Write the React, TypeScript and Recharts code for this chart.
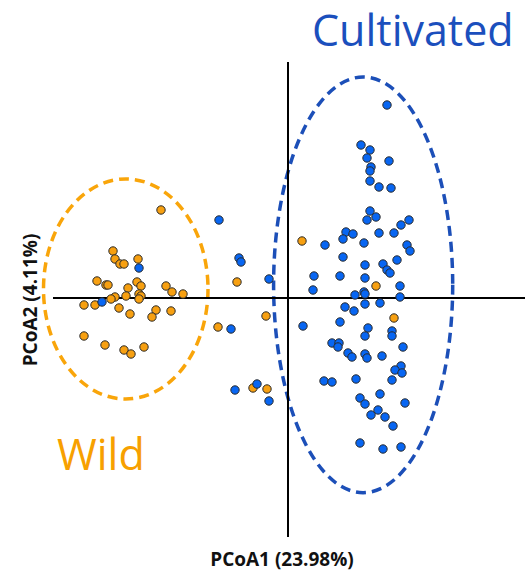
import React from 'react';
import { ScatterChart, Scatter, XAxis, YAxis, ReferenceLine, ReferenceArea, Customized } from 'recharts';

const wildPoints: [number, number][] = [
  [-0.127, 0.088], [-0.175, 0.047], [-0.173, 0.039], [-0.168, 0.034], [-0.164, 0.034],
  [-0.150, 0.039], [-0.191, 0.017], [-0.182, 0.013], [-0.180, 0.013], [-0.160, 0.010],
  [-0.151, 0.016], [-0.147, 0.012], [-0.122, 0.012], [-0.116, 0.006], [-0.105, 0.004],
  [-0.173, 0.001], [-0.177, -0.001], [-0.162, 0.002], [-0.149, 0.004], [-0.147, 0.002],
  [-0.149, -0.001], [-0.204, -0.007], [-0.193, -0.007], [-0.169, -0.010], [-0.158, -0.016],
  [-0.132, -0.012], [-0.136, -0.019], [-0.117, -0.013], [-0.204, -0.038], [-0.183, -0.047],
  [-0.164, -0.052], [-0.157, -0.056], [-0.144, -0.049],
  [-0.051, 0.016], [-0.022, -0.018], [-0.070, -0.029], [-0.035, -0.090], [-0.021, -0.091],
  [0.014, 0.057], [0.088, 0.012], [0.106, -0.020],
];

const cultivatedPoints: [number, number][] = [
  [-0.149, 0.030], [-0.186, -0.004],
  [-0.069, 0.078], [-0.049, 0.040], [-0.047, 0.036], [-0.019, 0.019], [-0.057, -0.031],
  [-0.053, -0.092], [-0.031, -0.086], [-0.019, -0.103],
  [0.026, 0.022], [0.025, 0.008], [0.015, -0.028],
  [0.099, 0.193], [0.073, 0.153], [0.082, 0.148], [0.079, 0.140], [0.101, 0.137],
  [0.083, 0.131], [0.082, 0.127], [0.082, 0.117], [0.091, 0.111], [0.103, 0.110],
  [0.082, 0.087], [0.088, 0.081], [0.079, 0.078], [0.121, 0.078], [0.113, 0.073],
  [0.058, 0.066], [0.065, 0.064], [0.055, 0.059], [0.091, 0.065], [0.106, 0.065],
  [0.076, 0.055], [0.037, 0.053], [0.119, 0.053], [0.122, 0.047], [0.055, 0.041],
  [0.109, 0.038], [0.077, 0.033], [0.095, 0.034], [0.099, 0.028], [0.102, 0.025],
  [0.052, 0.022], [0.077, 0.020], [0.112, 0.012], [0.067, 0.003], [0.076, 0.006],
  [0.077, 0.004], [0.112, 0.001], [0.077, -0.006], [0.092, -0.005], [0.057, -0.009],
  [0.066, -0.013], [0.052, -0.024], [0.080, -0.030], [0.104, -0.033], [0.077, -0.038],
  [0.104, -0.038], [0.044, -0.045], [0.051, -0.045], [0.050, -0.049], [0.115, -0.049],
  [0.060, -0.055], [0.064, -0.059], [0.077, -0.056], [0.079, -0.060], [0.094, -0.058],
  [0.113, -0.068], [0.107, -0.072], [0.114, -0.075], [0.104, -0.082], [0.068, -0.081],
  [0.036, -0.083], [0.044, -0.084], [0.092, -0.096], [0.072, -0.100], [0.077, -0.106],
  [0.117, -0.105], [0.090, -0.112], [0.083, -0.117], [0.097, -0.119], [0.105, -0.128],
  [0.072, -0.145], [0.095, -0.151], [0.113, -0.149],
];

// ellipse bounding boxes [x1, x2, y1, y2]
const wildEllipse = [-0.2445, -0.080, 0.119, -0.101];
const cultivatedEllipse = [-0.0144, 0.1647, 0.221, -0.1947];

const xAxisExtent = [-0.235, 0.237];
const yAxisExtent = [0.236, -0.239];

const xDomain = [-0.288, 0.242];
const yDomain = [-0.273, 0.298];

const wildData = wildPoints.map(([x, y]) => ({ x, y }));
const cultivatedData = cultivatedPoints.map(([x, y]) => ({ x, y }));

const BLUE = '#0866f2';
const ORANGE = '#f7a011';

const dot = (fill: string) => (props: any) => (
  <circle cx={props.cx} cy={props.cy} r={4.2} fill={fill} stroke="#2a2a2a" strokeWidth={1} />
);

const ellipseShape = (color: string) => (props: any) => {
  const { x, y, width, height } = props;
  return (
    <ellipse
      cx={x + width / 2}
      cy={y + height / 2}
      rx={Math.abs(width) / 2}
      ry={Math.abs(height) / 2}
      fill="none"
      stroke={color}
      strokeWidth={3.5}
      strokeDasharray="10 6"
    />
  );
};

const Labels = () => (
  <g>
    <text x={312} y={46} fontFamily="Open Sans" fontSize={43} fill="#1b4fbd">Cultivated</text>
    <text x={57} y={470} fontFamily="Open Sans" fontSize={43} fill="#f7a000">Wild</text>
    <text x={282} y={566} textAnchor="middle" fontFamily="Open Sans" fontWeight="bold" fontSize={19} fill="#111">PCoA1 (23.98%)</text>
    <text x={37} y={300} textAnchor="middle" transform="rotate(-90 37 300)" fontFamily="Open Sans" fontWeight="bold" fontSize={19} fill="#111">PCoA2 (4.11%)</text>
  </g>
);

export default function App() {
  return (
    <div style={{ position: 'absolute', left: 0, top: 0, width: 530, height: 571, background: '#fff' }}>
      <ScatterChart width={530} height={571} margin={{ top: 0, right: 0, bottom: 0, left: 0 }}>
        <XAxis type="number" dataKey="x" domain={xDomain} hide allowDataOverflow />
        <YAxis type="number" dataKey="y" domain={yDomain} hide allowDataOverflow />
        <ReferenceLine segment={[{ x: xAxisExtent[0], y: 0 }, { x: xAxisExtent[1], y: 0 }]} stroke="#000" strokeWidth={2} ifOverflow="visible" />
        <ReferenceLine segment={[{ x: 0, y: yAxisExtent[0] }, { x: 0, y: yAxisExtent[1] }]} stroke="#000" strokeWidth={2} ifOverflow="visible" />
        <ReferenceArea x1={wildEllipse[0]} x2={wildEllipse[1]} y1={wildEllipse[2]} y2={wildEllipse[3]} shape={ellipseShape('#f9a50a')} ifOverflow="visible" />
        <ReferenceArea x1={cultivatedEllipse[0]} x2={cultivatedEllipse[1]} y1={cultivatedEllipse[2]} y2={cultivatedEllipse[3]} shape={ellipseShape('#1c4fb8')} ifOverflow="visible" />
        <Scatter data={wildData} shape={dot(ORANGE)} isAnimationActive={false} />
        <Scatter data={cultivatedData} shape={dot(BLUE)} isAnimationActive={false} />
        <Customized component={Labels} />
      </ScatterChart>
    </div>
  );
}
